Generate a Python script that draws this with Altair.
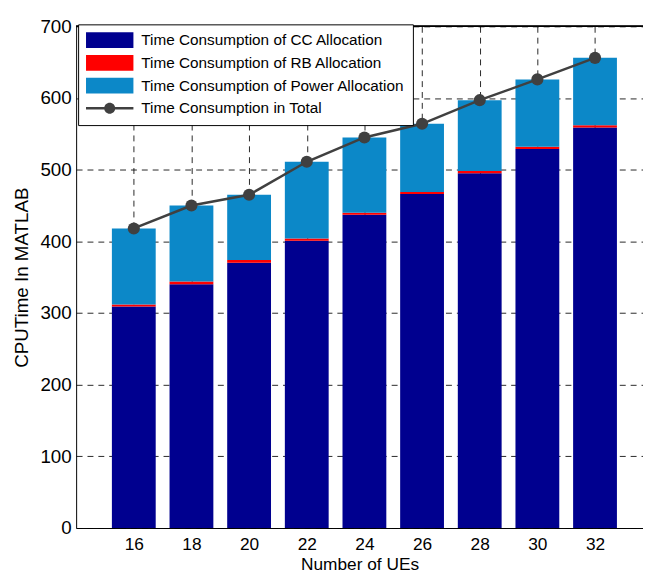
import altair as alt
import pandas as pd

# ---- data ----
ues = [16, 18, 20, 22, 24, 26, 28, 30, 32]
cc_time = [309, 340, 370, 401, 437, 466, 495, 529, 559]
rb_time = [3, 4, 4, 3, 3, 3, 3, 3, 3]
power_time = [106, 106, 91, 107, 105, 95, 99, 94, 94]
total_time = [418, 450, 465, 511, 545, 564, 597, 626, 656]

series_names = [
    "Time Consumption of CC Allocation",
    "Time Consumption of RB Allocation",
    "Time Consumption of Power Allocation",
    "Time Consumption in Total",
]
y_ticks = [0, 100, 200, 300, 400, 500, 600, 700]

# ---- style ----
FONT = "Liberation Sans"
BAR_HALF = 0.76
W, H = 574, 508
colors = ["#00008F", "#FF0000", "#0C88C8", "#404040"]
rect_path = "M-1,-1H5V1H-1Z"
line_path = ("M-1,-0.15H5V0.15H-1Z "
             "M2.7,0A0.7,0.7 0 1,1 1.3,0A0.7,0.7 0 1,1 2.7,0Z")
shapes = [rect_path, rect_path, rect_path, line_path]

# ---- tables ----
rows = []
for i, n in enumerate(ues):
    base = 0
    for k, vals in enumerate([cc_time, rb_time, power_time]):
        rows.append({"n": n, "x0": n - BAR_HALF, "x1": n + BAR_HALF,
                     "y0": base, "y1": base + vals[i],
                     "series": series_names[k], "hex": colors[k]})
        base += vals[i]
bars_df = pd.DataFrame(rows)
tot_df = pd.DataFrame({"n": ues, "total": total_time})
leg_df = pd.DataFrame({"series": series_names})

color_scale = alt.Scale(domain=series_names, range=colors)
shape_scale = alt.Scale(domain=series_names, range=shapes)

x_scale = alt.Scale(domain=[14, 14 + W / 29.19], nice=False, zero=False)
y_scale = alt.Scale(domain=[0, 700], nice=False)

x_axis = alt.Axis(values=ues, format="d", title="Number of UEs", grid=True,
                  ticks=False, labelPadding=8, titlePadding=3, labelFlush=False,
                  labelFontSize=17.5, titleFontSize=17.5)
y_axis = alt.Axis(values=y_ticks, title="CPUTime In MATLAB", grid=True,
                  ticks=False, labelPadding=5, titlePadding=9,
                  labelFontSize=19, titleFontSize=19)

bars = alt.Chart(bars_df).mark_bar(stroke=None).encode(
    x=alt.X("x0:Q", scale=x_scale, axis=x_axis),
    x2="x1:Q",
    y=alt.Y("y0:Q", scale=y_scale, axis=y_axis),
    y2="y1:Q",
    color=alt.Color("hex:N", scale=None),
)

line = alt.Chart(tot_df).mark_line(color="#404040", strokeWidth=2.5).encode(
    x=alt.X("n:Q", scale=x_scale, axis=x_axis),
    y=alt.Y("total:Q", scale=y_scale, axis=y_axis),
)
pts = alt.Chart(tot_df).mark_point(filled=True, color="#404040", size=150, opacity=1).encode(
    x=alt.X("n:Q", scale=x_scale, axis=x_axis),
    y=alt.Y("total:Q", scale=y_scale, axis=y_axis),
)

# layer that only feeds the legend (its marks sit hidden under the legend box)
leg_spec = dict(title=None, orient="none", legendX=2, legendY=-2)
legend_layer = alt.Chart(leg_df).mark_point(filled=True, size=16).encode(
    x=alt.value(30),
    y=alt.value(30),
    color=alt.Color("series:N", scale=color_scale, legend=alt.Legend(**leg_spec)),
    shape=alt.Shape("series:N", scale=shape_scale, legend=alt.Legend(**leg_spec)),
)

top_border = alt.Chart(tot_df).mark_rule(color="black", strokeWidth=1).encode(
    x=alt.value(0), x2=alt.value(W), y=alt.value(0)
)

chart = alt.layer(bars, line, pts, legend_layer, top_border).properties(
    width=W, height=H,
    autosize=alt.AutoSizeParams(type="none"),
    padding={"left": 69, "top": 15, "right": 0, "bottom": 44},
).configure_view(stroke=None).configure_axis(
    domainColor="black", domainWidth=1,
    gridColor="black", gridDash=[6, 5], gridWidth=1, gridOpacity=0.85,
    labelFont=FONT, titleFont=FONT,
    titleFontWeight="normal", labelColor="black", titleColor="black",
).configure_legend(
    padding=8,
    strokeColor="black", strokeWidth=1, fillColor="white",
    labelFont=FONT, labelFontSize=15.5, labelColor="black", labelLimit=400,
    symbolSize=256, symbolStrokeWidth=0, symbolOpacity=1,
    labelOffset=40, rowPadding=6,
)

chart.save("out.html", embed_options={"renderer": "svg", "actions": False})
